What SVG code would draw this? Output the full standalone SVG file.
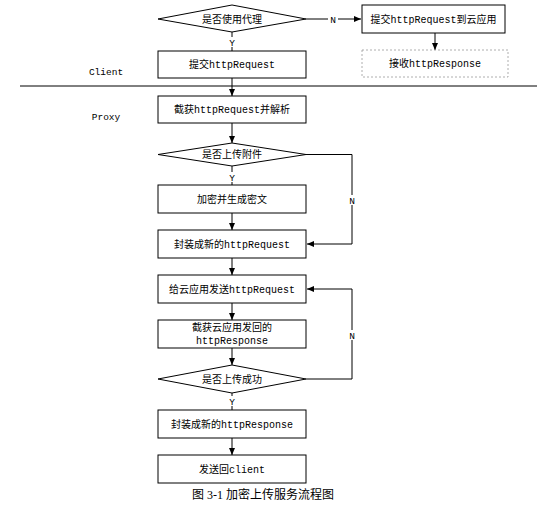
<svg xmlns="http://www.w3.org/2000/svg" width="555" height="508" viewBox="0 0 555 508">
<style>
.box{fill:#fff;stroke:#000;stroke-width:1}
.dash{fill:#fff;stroke:#999;stroke-width:0.8;stroke-dasharray:2,2}
.ln{fill:none;stroke:#000;stroke-width:1}
.t{font-family:"Liberation Mono","Noto Sans CJK SC",monospace;font-size:10px;fill:#000;text-anchor:middle}
.lbl{font-family:"Liberation Mono","Noto Sans CJK SC",monospace;font-size:9.5px;fill:#000;text-anchor:middle}
.cap{font-family:"Liberation Serif","Noto Sans CJK SC",serif;font-size:12px;fill:#000;text-anchor:middle}
</style>
<defs>
<marker id="ah" markerUnits="userSpaceOnUse" markerWidth="8" markerHeight="8" refX="7" refY="4" orient="auto">
<path d="M0,1 L7,4 L0,7 Z" fill="#000"/>
</marker>
</defs>
<rect width="555" height="508" fill="#fff"/>
<line x1="20" y1="86" x2="537" y2="86" stroke="#000" stroke-width="1"/>
<text class="lbl" x="106" y="75">Client</text>
<text class="lbl" x="106" y="120">Proxy</text>
<g id="connectors">
<path class="ln" d="M306,19 H361" marker-end="url(#ah)"/>
<path class="ln" d="M435,33 V50" marker-end="url(#ah)"/>
<path class="ln" d="M232,32 V51"/>
<path class="ln" d="M232,78 V96" marker-end="url(#ah)"/>
<path class="ln" d="M232,123 V143" marker-end="url(#ah)"/>
<path class="ln" d="M232,166 V185"/>
<path class="ln" d="M232,213 V230" marker-end="url(#ah)"/>
<path class="ln" d="M232,258 V275" marker-end="url(#ah)"/>
<path class="ln" d="M232,303 V320" marker-end="url(#ah)"/>
<path class="ln" d="M232,348 V365" marker-end="url(#ah)"/>
<path class="ln" d="M232,393 V410"/>
<path class="ln" d="M232,438 V455" marker-end="url(#ah)"/>
<path class="ln" d="M306,154.5 H352 V244 H307" marker-end="url(#ah)"/>
<path class="ln" d="M306,379 H352 V289 H307" marker-end="url(#ah)"/>
<rect x="328" y="14" width="10" height="10" fill="#fff"/>
<text class="lbl" x="333" y="22.5">N</text>
<rect x="227" y="37" width="10" height="10" fill="#fff"/>
<text class="lbl" x="232" y="45.5">Y</text>
<rect x="227" y="172" width="10" height="10" fill="#fff"/>
<text class="lbl" x="232" y="180.5">Y</text>
<rect x="347" y="195" width="10" height="10" fill="#fff"/>
<text class="lbl" x="352" y="203.5">N</text>
<rect x="347" y="330" width="10" height="10" fill="#fff"/>
<text class="lbl" x="352" y="338.5">N</text>
<rect x="227" y="396" width="10" height="10" fill="#fff"/>
<text class="lbl" x="232" y="404.5">Y</text>
</g>
<g id="d1"><polygon class="box" points="158,19 232,5 306,19 232,32"/><text class="t" x="232" y="22.5">是否使用代理</text></g>
<g id="a1"><rect class="box" x="362" y="5" width="143" height="28"/><text class="t" x="433.5" y="22.5">提交httpRequest到云应用</text></g>
<g id="a2"><rect class="dash" x="362" y="50" width="146" height="27"/><text class="t" x="435" y="67">接收httpResponse</text></g>
<g id="b1"><rect class="box" x="158" y="51" width="148" height="27"/><text class="t" x="232" y="68">提交httpRequest</text></g>
<g id="b2"><rect class="box" x="158" y="96" width="148" height="27"/><text class="t" x="232" y="113">截获httpRequest并解析</text></g>
<g id="d2"><polygon class="box" points="158,154.5 232,143 306,154.5 232,166"/><text class="t" x="232" y="158">是否上传附件</text></g>
<g id="b3"><rect class="box" x="158" y="185" width="148" height="28"/><text class="t" x="232" y="202.5">加密并生成密文</text></g>
<g id="b4"><rect class="box" x="158" y="230" width="148" height="28"/><text class="t" x="232" y="247.5">封装成新的httpRequest</text></g>
<g id="b5"><rect class="box" x="158" y="275" width="148" height="28"/><text class="t" x="232" y="292.5">给云应用发送httpRequest</text></g>
<g id="b6"><rect class="box" x="158" y="320" width="148" height="28"/><text class="t" x="232" y="331">截获云应用发回的</text><text class="t" x="232" y="344">httpResponse</text></g>
<g id="d3"><polygon class="box" points="158,379 232,365 306,379 232,393"/><text class="t" x="232" y="382.5">是否上传成功</text></g>
<g id="b7"><rect class="box" x="158" y="410" width="148" height="28"/><text class="t" x="232" y="427.5">封装成新的httpResponse</text></g>
<g id="b8"><rect class="box" x="158" y="455" width="148" height="28"/><text class="t" x="232" y="472.5">发送回client</text></g>
<text class="cap" x="263" y="499">图 3-1 加密上传服务流程图</text>
</svg>
